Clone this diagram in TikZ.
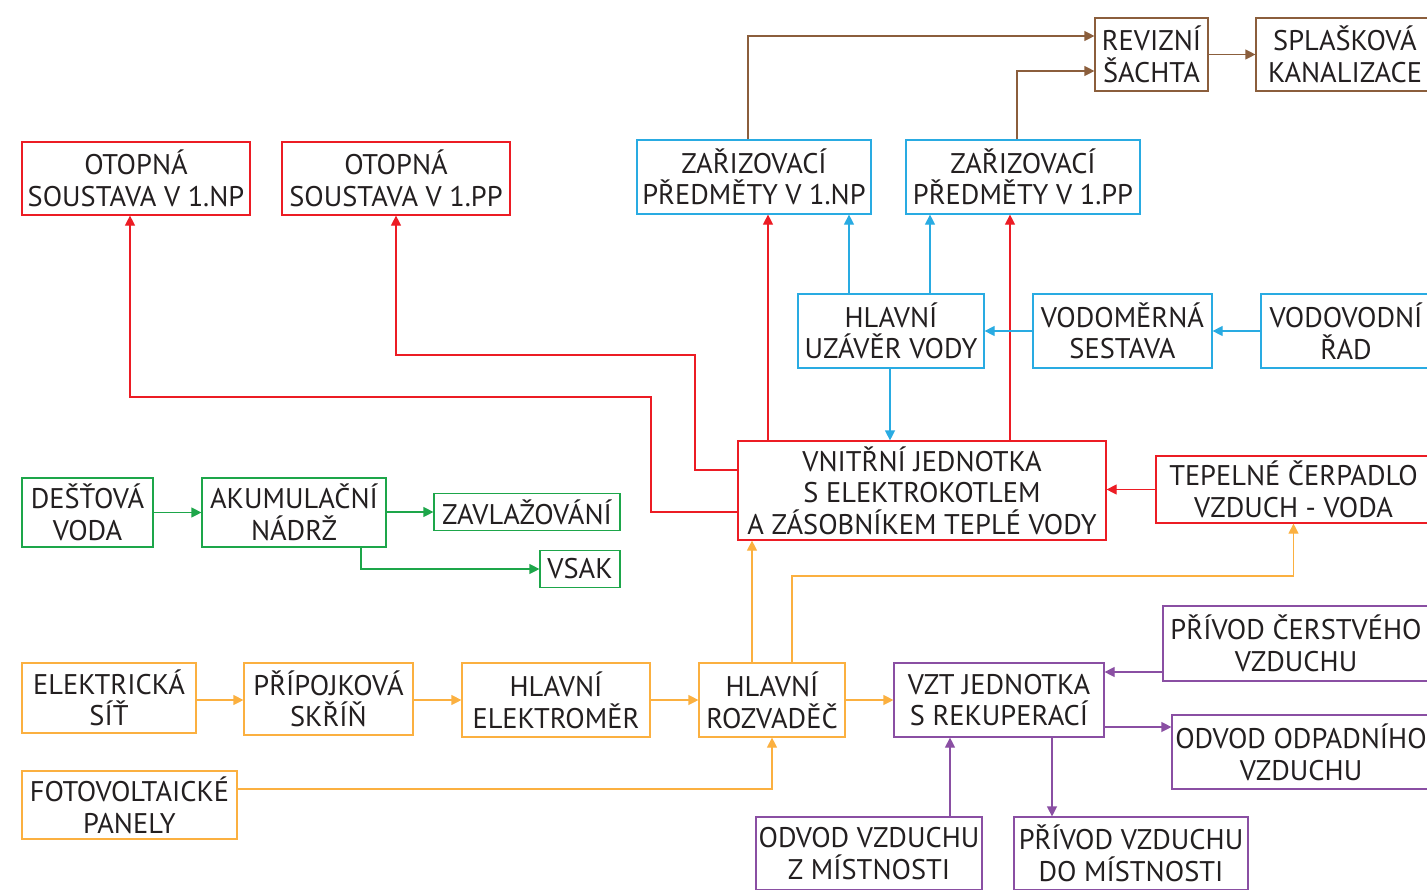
\documentclass[tikz,border=0pt]{standalone}
\usepackage{xcolor}
\usepackage{fontspec}
\setmainfont{PT Sans}
\usepackage{tikz}
\usetikzlibrary{arrows.meta}

\definecolor{cervena}{HTML}{EC1C24}
\definecolor{modra}{HTML}{29ABE2}
\definecolor{zelena}{HTML}{1DA64A}
\definecolor{oranzova}{HTML}{FBB040}
\definecolor{fialova}{HTML}{8A4FA3}
\definecolor{hneda}{HTML}{8B5E3C}
\definecolor{pismo}{HTML}{231F20}

\tikzset{
  blok/.style={draw=#1, line width=0.6pt, align=center, inner sep=0pt, text=pismo,
    font=\fontsize{14.2}{15.8}\selectfont},
  spoj/.style={line width=0.6pt, -{Triangle[length=5pt,width=5pt]}}
}

\begin{document}
\begin{tikzpicture}[x=0.5pt, y=-0.5pt]

\useasboundingbox (0,0) rectangle (1427,889);

% Kanalizace
\node[blok=hneda, minimum width=56.5pt, minimum height=36.5pt] (revize) at (1151.5,54.5) {REVIZNÍ\\ŠACHTA};
\node[blok=hneda, minimum width=89pt, minimum height=36.5pt] (splaskova) at (1345,54.5) {SPLAŠKOVÁ\\KANALIZACE};

% Vytapeni
\node[blok=cervena, minimum width=114pt, minimum height=36.5pt] (otopna1np) at (136,178.5) {OTOPNÁ\\SOUSTAVA V 1.NP};
\node[blok=cervena, minimum width=114pt, minimum height=36.5pt] (otopna1pp) at (396,178.5) {OTOPNÁ\\SOUSTAVA V 1.PP};
\node[blok=cervena, minimum width=184pt, minimum height=49.5pt] (vnitrni) at (922,490.5) {VNITŘNÍ JEDNOTKA\\S ELEKTROKOTLEM\\A ZÁSOBNÍKEM TEPLÉ VODY};
\node[blok=cervena, minimum width=137.5pt, minimum height=33.5pt] (tepelne) at (1293.5,489.5) {TEPELNÉ ČERPADLO\\VZDUCH - VODA};

% Voda
\node[blok=modra, minimum width=117pt, minimum height=37pt] (zar1np) at (754,177) {ZAŘIZOVACÍ\\PŘEDMĚTY V 1.NP};
\node[blok=modra, minimum width=117pt, minimum height=37pt] (zar1pp) at (1023,177) {ZAŘIZOVACÍ\\PŘEDMĚTY V 1.PP};
\node[blok=modra, minimum width=93pt, minimum height=37pt] (uzaver) at (891,331) {HLAVNÍ\\UZÁVĚR VODY};
\node[blok=modra, minimum width=89.5pt, minimum height=37pt] (vodomer) at (1122.5,331) {VODOMĚRNÁ\\SESTAVA};
\node[blok=modra, minimum width=85pt, minimum height=37pt] (vodovod) at (1346,331) {VODOVODNÍ\\ŘAD};

% Destova voda
\node[blok=zelena, minimum width=65.5pt, minimum height=34.5pt] (destova) at (87.5,512.5) {DEŠŤOVÁ\\VODA};
\node[blok=zelena, minimum width=92pt, minimum height=34.5pt] (akum) at (294,512.5) {AKUMULAČNÍ\\NÁDRŽ};
\node[blok=zelena, minimum width=93pt, minimum height=18.5pt] (zavlaz) at (527,512) {ZAVLAŽOVÁNÍ};
\node[blok=zelena, minimum width=40pt, minimum height=18.5pt] (vsak) at (580,569) {VSAK};

% Elektro
\node[blok=oranzova, minimum width=87pt, minimum height=35pt] (elsit) at (109,698) {ELEKTRICKÁ\\SÍŤ};
\node[blok=oranzova, minimum width=84.5pt, minimum height=36pt] (pripojk) at (328.5,699) {PŘÍPOJKOVÁ\\SKŘÍŇ};
\node[blok=oranzova, minimum width=94pt, minimum height=37pt] (elektromer) at (556,700) {HLAVNÍ\\ELEKTROMĚR};
\node[blok=oranzova, minimum width=73pt, minimum height=37pt] (rozvadec) at (772,700) {HLAVNÍ\\ROZVADĚČ};
\node[blok=oranzova, minimum width=107.5pt, minimum height=34pt] (fotovolt) at (129.5,805) {FOTOVOLTAICKÉ\\PANELY};

% Vzduchotechnika
\node[blok=fialova, minimum width=105pt, minimum height=37pt] (vzt) at (999,700) {VZT JEDNOTKA\\S REKUPERACÍ};
\node[blok=fialova, minimum width=133pt, minimum height=37.5pt] (privodcerst) at (1296,643.5) {PŘÍVOD ČERSTVÉHO\\VZDUCHU};
\node[blok=fialova, minimum width=129pt, minimum height=37pt] (odvododpad) at (1301,752) {ODVOD ODPADNÍHO\\VZDUCHU};
\node[blok=fialova, minimum width=113pt, minimum height=36.5pt] (odvodvzd) at (869,853.5) {ODVOD VZDUCHU\\Z MÍSTNOSTI};
\node[blok=fialova, minimum width=117pt, minimum height=36.5pt] (privodvzd) at (1131,853.5) {PŘÍVOD VZDUCHU\\DO MÍSTNOSTI};

% Spoje - kanalizace
\draw[spoj, hneda] (zar1np.north -| 748,0) |- (revize.west |- 0,36);
\draw[spoj, hneda] (zar1pp.north -| 1017,0) |- (revize.west |- 0,71);
\draw[spoj, hneda] (revize.east) -- (splaskova.west);

% Spoje - vytapeni
\draw[spoj, cervena] (vnitrni.west |- 0,470) -| (695,355) -| (otopna1pp.south);
\draw[spoj, cervena] (vnitrni.west |- 0,512) -| (651,397) -| (otopna1np.south -| 130,0);
\draw[spoj, cervena] (vnitrni.north -| 768,0) -- (zar1np.south -| 768,0);
\draw[spoj, cervena] (vnitrni.north -| 1010,0) -- (zar1pp.south -| 1010,0);
\draw[spoj, cervena] (tepelne.west) -- (vnitrni.east |- tepelne.west);

% Spoje - voda
\draw[spoj, modra] (uzaver.north -| 849,0) -- (zar1np.south -| 849,0);
\draw[spoj, modra] (uzaver.north -| 930,0) -- (zar1pp.south -| 930,0);
\draw[spoj, modra] (uzaver.south -| 890,0) -- (vnitrni.north -| 890,0);
\draw[spoj, modra] (vodomer.west) -- (uzaver.east);
\draw[spoj, modra] (vodovod.west) -- (vodomer.east);

% Spoje - destova voda
\draw[spoj, zelena] (destova.east) -- (akum.west);
\draw[spoj, zelena] (akum.east |- zavlaz.west) -- (zavlaz.west);
\draw[spoj, zelena] (akum.south -| 361,0) |- (vsak.west);

% Spoje - elektro
\draw[spoj, oranzova] (elsit.east |- 0,700) -- (pripojk.west |- 0,700);
\draw[spoj, oranzova] (pripojk.east |- 0,700) -- (elektromer.west |- 0,700);
\draw[spoj, oranzova] (elektromer.east |- 0,700) -- (rozvadec.west |- 0,700);
\draw[spoj, oranzova] (rozvadec.east |- 0,700) -- (vzt.west |- 0,700);
\draw[spoj, oranzova] (rozvadec.north -| 752,0) -- (vnitrni.south -| 752,0);
\draw[spoj, oranzova] (rozvadec.north -| 792,0) |- (tepelne.south |- 0,576) -- (tepelne.south);
\draw[spoj, oranzova] (fotovolt.east |- 0,789) -| (rozvadec.south);

% Spoje - vzduchotechnika
\draw[spoj, fialova] (privodcerst.west |- 0,672) -- (vzt.east |- 0,672);
\draw[spoj, fialova] (vzt.east |- 0,727) -- (odvododpad.west |- 0,727);
\draw[spoj, fialova] (odvodvzd.north -| 950,0) -- (vzt.south -| 950,0);
\draw[spoj, fialova] (vzt.south -| 1052,0) -- (privodvzd.north -| 1052,0);

\end{tikzpicture}
\end{document}
